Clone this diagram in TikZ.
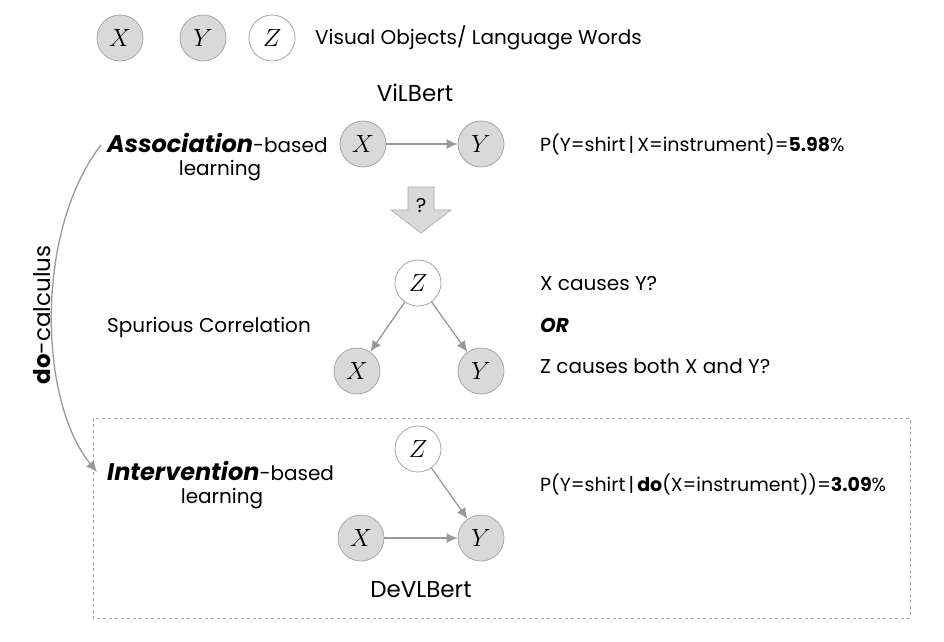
\documentclass[tikz,border=0pt]{standalone}
\usepackage{fontspec}
\setmainfont{Poppins}
\usetikzlibrary{arrows.meta}

\tikzset{
  obs/.style={circle, draw=gray!70, fill=gray!30, line width=0.8pt, minimum size=46pt, inner sep=0pt, font=\fontsize{26}{26}\selectfont},
  conf/.style={obs, fill=white},
  edge/.style={draw=gray!80, line width=1.3pt, -{Latex[length=11pt,width=10pt]}},
  txt/.style={anchor=west, font=\fontsize{20}{22}\selectfont, inner sep=0pt},
  lbl/.style={font=\fontsize{20}{22}\selectfont, inner sep=0pt},
  model/.style={font=\fontsize{23}{24}\selectfont, inner sep=0pt}
}

\begin{document}
\begin{tikzpicture}[x=1pt, y=-1pt]

\useasboundingbox (0,0) rectangle (944,641);

% legend
\node[obs] (lx) at (120,38) {$X$};
\node[obs] (ly) at (203,38) {$Y$};
\node[conf] (lz) at (272,38) {$Z$};
\node[txt] (legend) at (315,38) {Visual Objects/ Language Words};

% association
\node[model] (vil) at (415,93) {ViLBert};
\node[obs] (ax) at (363,144) {$X$};
\node[obs] (ay) at (481,144) {$Y$};
\draw[edge] (ax) -- (ay);
\node[txt] (assoc) at (107,143) {\textbf{\textit{\fontsize{24}{24}\selectfont Association}}-based};
\node[lbl] (alearn) at (220,171) {learning};
\node[txt, font=\fontsize{19}{20}\selectfont] (pa) at (540,144) {P(Y=shirt\,|\,X=instrument)=\textbf{5.98}\%};

% question arrow
\draw[draw=gray!70, fill=gray!30, line width=0.6pt] (408,187) -- (434,187) -- (434,210) -- (451,210) -- (421,233) -- (391,210) -- (408,210) -- cycle;
\node[lbl] (q) at (421,205) {?};

% spurious correlation
\node[conf] (mz) at (418,283) {$Z$};
\node[obs] (mx) at (357,371) {$X$};
\node[obs] (my) at (481,371) {$Y$};
\draw[edge] (mz) -- (mx);
\draw[edge] (mz) -- (my);
\node[txt] (spur) at (107,327) {Spurious Correlation};
\node[txt] (c1) at (540,284) {X causes Y?};
\node[txt] (c2) at (540,325) {\textbf{\textit{OR}}};
\node[txt] (c3) at (540,366) {Z causes both X and Y?};

% intervention
\draw[gray!70, dashed, line width=0.8pt] (93,418) rectangle (910,618);
\node[conf] (iz) at (418,449) {$Z$};
\node[obs] (ix) at (361,538) {$X$};
\node[obs] (iy) at (481,538) {$Y$};
\draw[edge] (iz) -- (iy);
\draw[edge] (ix) -- (iy);
\node[txt] (inter) at (107,471) {\textbf{\textit{\fontsize{24}{24}\selectfont Intervention}}-based};
\node[lbl] (ilearn) at (222,499) {learning};
\node[model] (dev) at (421,590) {DeVLBert};
\node[txt, font=\fontsize{19}{20}\selectfont] (pi) at (540,484) {P(Y=shirt\,|\,\textbf{do}(X=instrument))=\textbf{3.09}\%};

% do-calculus
\draw[edge] (assoc.west) ++(-6,2) coordinate (cs) .. controls (35,230) and (38,400) .. (97,472);
\node[rotate=90, font=\fontsize{23}{23}\selectfont] (docalc) at (42,315) {\textbf{do}-calculus};

\end{tikzpicture}
\end{document}
